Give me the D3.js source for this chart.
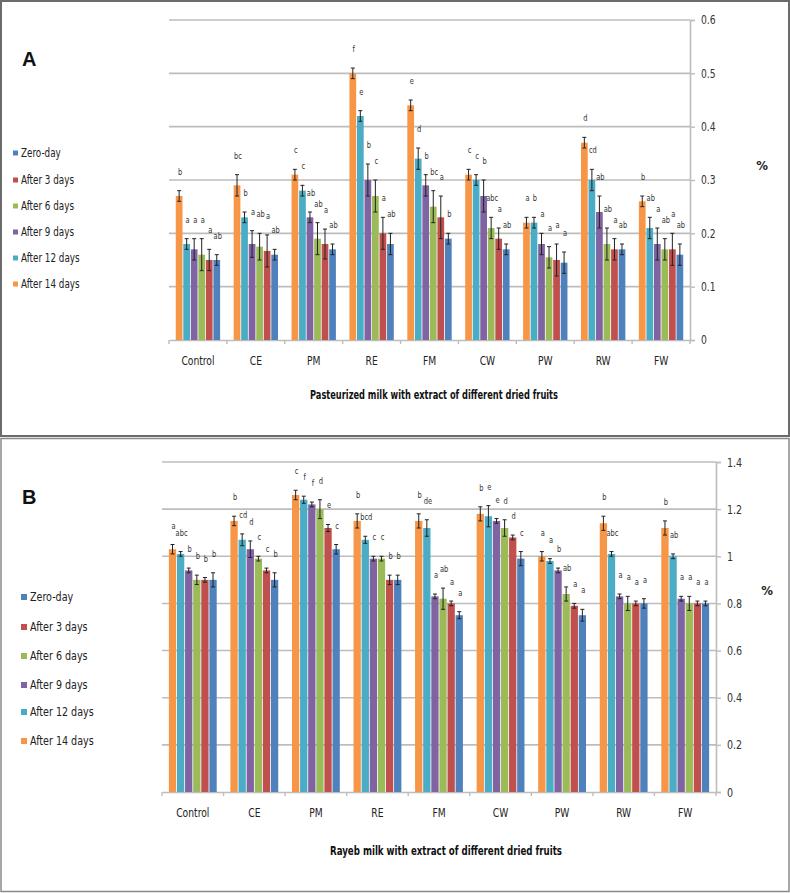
<!DOCTYPE html>
<html><head><meta charset="utf-8">
<script src="https://cdn.jsdelivr.net/npm/d3@7"></script>
<style>
body{margin:0;background:#fff;}
text{font-family:'Liberation Sans Narrow','DejaVu Sans Condensed',sans-serif;}
</style></head>
<body><svg id="c" width="790" height="893"></svg>
<script>
const categories = ["Control","CE","PM","RE","FM","CW","PW","RW","FW"];
const seriesNames = ["Zero-day","After 3 days","After 6 days","After 9 days","After 12 days","After 14 days"];
const seriesColors = ["#4F81BD","#C0504D","#9BBB59","#8064A2","#4BACC6","#F79646"];

// Panel A (Pasteurized milk) values per series
const aZero  = [0.15,0.16,0.17,0.18,0.19,0.17,0.145,0.17,0.16];
const aDay3  = [0.15,0.167,0.18,0.20,0.23,0.19,0.15,0.17,0.17];
const aDay6  = [0.16,0.175,0.19,0.27,0.25,0.21,0.155,0.18,0.17];
const aDay9  = [0.17,0.18,0.23,0.30,0.29,0.27,0.18,0.24,0.18];
const aDay12 = [0.18,0.23,0.28,0.42,0.34,0.30,0.22,0.30,0.21];
const aDay14 = [0.27,0.29,0.31,0.50,0.44,0.31,0.22,0.37,0.26];
const aErrZero  = [0.01,0.01,0.01,0.02,0.01,0.01,0.02,0.01,0.02];
const aErrDay3  = [0.02,0.03,0.028,0.03,0.04,0.02,0.03,0.02,0.03];
const aErrDay6  = [0.03,0.025,0.03,0.03,0.03,0.02,0.02,0.03,0.02];
const aErrDay9  = [0.02,0.025,0.01,0.03,0.02,0.03,0.02,0.03,0.03];
const aErrDay12 = [0.01,0.01,0.01,0.01,0.02,0.01,0.01,0.02,0.02];
const aErrDay14 = [0.01,0.02,0.01,0.01,0.01,0.01,0.01,0.01,0.01];
const aLetZero  = ["ab","ab","ab","ab","b","ab","a","ab","ab"];
const aLetDay3  = ["a","a","a","a","a","a","a","a","a"];
const aLetDay6  = ["a","ab","ab","c","bc","abc","a","ab","ab"];
const aLetDay9  = ["a","a","ab","b","b","b","a","ab","a"];
const aLetDay12 = ["a","b","c","e","d","c","b","cd","ab"];
const aLetDay14 = ["b","bc","c","f","e","c","a","d","b"];
const aTicks = [0,0.1,0.2,0.3,0.4,0.5,0.6];

// Panel B (Rayeb milk) values per series
const bZero  = [0.90,0.90,1.03,0.90,0.75,0.99,0.75,0.80,0.80];
const bDay3  = [0.90,0.94,1.12,0.90,0.80,1.08,0.79,0.80,0.80];
const bDay6  = [0.90,0.99,1.20,0.99,0.82,1.12,0.84,0.80,0.80];
const bDay9  = [0.94,1.03,1.22,0.99,0.83,1.15,0.94,0.83,0.82];
const bDay12 = [1.01,1.07,1.24,1.07,1.12,1.17,0.98,1.01,1.00];
const bDay14 = [1.03,1.15,1.26,1.15,1.15,1.18,1.00,1.14,1.12];
const bErrZero  = [0.03,0.03,0.02,0.02,0.015,0.03,0.025,0.02,0.01];
const bErrDay3  = [0.01,0.01,0.015,0.02,0.01,0.01,0.01,0.01,0.01];
const bErrDay6  = [0.02,0.01,0.04,0.01,0.045,0.035,0.03,0.03,0.03];
const bErrDay9  = [0.01,0.035,0.01,0.01,0.01,0.01,0.01,0.01,0.01];
const bErrDay12 = [0.01,0.025,0.015,0.015,0.035,0.045,0.01,0.01,0.01];
const bErrDay14 = [0.02,0.02,0.02,0.03,0.03,0.03,0.02,0.03,0.03];
const bLetZero  = ["b","b","c","b","a","c","a","a","a"];
const bLetDay3  = ["b","c","e","b","a","d","a","a","a"];
const bLetDay6  = ["b","c","d","c","ab","d","ab","a","a"];
const bLetDay9  = ["b","d","f","c","a","e","b","a","a"];
const bLetDay12 = ["abc","cd","f","bcd","de","e","a","abc","ab"];
const bLetDay14 = ["a","b","c","b","b","b","a","b","b"];
const bTicks = [0,0.2,0.4,0.6,0.8,1,1.2,1.4];

const svg = d3.select("#c");

function condense(sel, f){
  sel.each(function(){
    const w = this.getComputedTextLength();
    d3.select(this).attr("textLength", w*f).attr("lengthAdjust","spacingAndGlyphs");
  });
}

// frames
svg.append("rect").attr("x",1).attr("y",1).attr("width",788).attr("height",435)
  .attr("fill","none").attr("stroke","#6b6b6b").attr("stroke-width",2);
svg.append("rect").attr("x",1).attr("y",438.5).attr("width",788).attr("height",453)
  .attr("fill","none").attr("stroke","#8a8a8a").attr("stroke-width",1.5);

function drawPanel(p){
  const g = svg.append("g");
  const x = d3.scaleBand().domain(categories).range([p.x0,p.x1]).paddingInner(0).paddingOuter(0);
  const y = d3.scaleLinear().domain([0,p.max]).range([p.y0,p.y1]);
  const order = [5,4,3,2,1,0]; // drawn left to right: 14d ... zero-day
  const xs = d3.scaleBand().domain(order).range([0,x.bandwidth()*p.groupFrac]).padding(0);
  const off = (x.bandwidth()*(1-p.groupFrac))/2;

  // gridlines
  g.selectAll(".grid").data(p.ticks.filter(t=>t>0)).join("line")
    .attr("x1",p.x0).attr("x2",p.x1).attr("y1",d=>y(d)).attr("y2",d=>y(d))
    .attr("stroke","#bdbdbd").attr("stroke-width",1.6);

  // right axis
  const ax = d3.axisRight(y).tickValues(p.ticks).tickSize(5).tickPadding(6)
    .tickFormat(d=>d3.format("")(+d.toFixed(1)));
  const axG = g.append("g").attr("transform",`translate(${p.x1},0)`).call(ax);
  axG.select(".domain").attr("stroke","#bdbdbd").attr("stroke-width",1.6);
  axG.selectAll(".tick line").attr("stroke","#bdbdbd").attr("stroke-width",1.4);
  axG.selectAll(".tick text").attr("fill","#333").attr("font-size",p.tickFont+"px")
    .attr("font-family","'Liberation Sans Narrow','DejaVu Sans Condensed',sans-serif");
  condense(axG.selectAll(".tick text"), 0.85);

  // bottom axis
  const bx = d3.axisBottom(x).tickSize(0).tickPadding(p.labelPad);
  const bG = g.append("g").attr("transform",`translate(0,${p.y0})`).call(bx);
  bG.select(".domain").attr("stroke","#bdbdbd").attr("stroke-width",1.6);
  bG.selectAll(".tick text").attr("fill","#222").attr("font-size",p.catFont+"px")
    .attr("font-family","'Liberation Sans Narrow','DejaVu Sans Condensed',sans-serif");
  condense(bG.selectAll(".tick text"), 0.85);
  g.selectAll(".btick").data(d3.range(categories.length+1)).join("line")
    .attr("x1",i=>p.x0+i*x.bandwidth()).attr("x2",i=>p.x0+i*x.bandwidth())
    .attr("y1",p.y0).attr("y2",p.y0+4).attr("stroke","#bdbdbd").attr("stroke-width",1.4);

  // bars
  const letG = g.append("g");
  order.forEach(s=>{
    const vals = p.values[s], errs = p.errs[s], lets = p.letters[s];
    const sg = g.append("g");
    categories.forEach((c,i)=>{
      const bx0 = x(c)+off+xs(s);
      const bw = xs.bandwidth();
      sg.append("rect").attr("x",bx0+0.4).attr("width",bw-0.8)
        .attr("y",y(vals[i])).attr("height",y(0)-y(vals[i]))
        .attr("fill",seriesColors[s]);
      const cx = bx0+bw/2;
      const top = y(vals[i]+errs[i]), bot = y(vals[i]-errs[i]);
      sg.append("line").attr("x1",cx).attr("x2",cx).attr("y1",top).attr("y2",bot)
        .attr("stroke","#222").attr("stroke-width",1);
      [top,bot].forEach(yy=>sg.append("line").attr("x1",cx-2).attr("x2",cx+2)
        .attr("y1",yy).attr("y2",yy).attr("stroke","#222").attr("stroke-width",1));
      letG.append("text").attr("x",cx+1).attr("y",top-p.letterGap)
        .attr("text-anchor","middle").attr("font-size",p.letterFont+"px")
        .attr("fill","#333").text(lets[i]);
    });
  });
  condense(letG.selectAll("text"), 0.78);

  // axis title
  g.append("text").attr("x",p.titleX).attr("y",p.titleY).attr("text-anchor","middle")
    .attr("font-size",p.titleFont+"px").attr("font-weight","bold").attr("fill","#111")
    .attr("textLength",p.titleW).attr("lengthAdjust","spacingAndGlyphs")
    .text(p.title);
  // percent
  g.append("text").attr("x",p.pctX).attr("y",p.pctY).attr("text-anchor","middle")
    .attr("font-size","13px").attr("font-weight","bold").attr("fill","#222").text("%");
  // panel letter
  g.append("text").attr("x",p.letX).attr("y",p.letY).attr("font-size","20px")
    .attr("font-weight","bold").attr("fill","#111")
    .style("font-family","'Liberation Sans','DejaVu Sans',sans-serif").text(p.panel);

  // legend (Zero-day first)
  const lg = g.append("g");
  seriesNames.forEach((n,i)=>{
    const yy = p.legY[i];
    lg.append("rect").attr("x",p.legX).attr("y",yy-p.legSq/2).attr("width",p.legSq).attr("height",p.legSq)
      .attr("fill",seriesColors[i]);
    lg.append("text").attr("x",p.legX+p.legSq+3).attr("y",yy).attr("dy","0.35em")
      .attr("font-size",p.legFont+"px").attr("fill","#222").text(n);
  });
  condense(lg.selectAll("text"), 0.85);
}

drawPanel({
  panel:"A", x0:169, x1:690, y0:340, y1:20, max:0.6, ticks:aTicks, groupFrac:0.78,
  values:[aZero,aDay3,aDay6,aDay9,aDay12,aDay14],
  errs:[aErrZero,aErrDay3,aErrDay6,aErrDay9,aErrDay12,aErrDay14],
  letters:[aLetZero,aLetDay3,aLetDay6,aLetDay9,aLetDay12,aLetDay14],
  tickFont:12, catFont:12, labelPad:16, letterFont:9.5, letterGap:16,
  title:"Pasteurized milk with extract of different dried fruits", titleX:434, titleY:399, titleFont:11.5, titleW:248,
  pctX:762, pctY:170, letX:22, letY:66,
  legX:13, legSq:5, legFont:11.5, legY:[153,180,206,232,258,284]
});
drawPanel({
  panel:"B", x0:162, x1:716, y0:792, y1:462, max:1.4, ticks:bTicks, groupFrac:0.79,
  values:[bZero,bDay3,bDay6,bDay9,bDay12,bDay14],
  errs:[bErrZero,bErrDay3,bErrDay6,bErrDay9,bErrDay12,bErrDay14],
  letters:[bLetZero,bLetDay3,bLetDay6,bLetDay9,bLetDay12,bLetDay14],
  tickFont:12.5, catFont:12, labelPad:16, letterFont:9.5, letterGap:16,
  title:"Rayeb milk with extract of different dried fruits", titleX:446, titleY:855, titleFont:12, titleW:232,
  pctX:767, pctY:595, letX:22, letY:504,
  legX:21, legSq:6, legFont:12.5, legY:[597,627,656,685,712,741]
});
</script></body></html>
